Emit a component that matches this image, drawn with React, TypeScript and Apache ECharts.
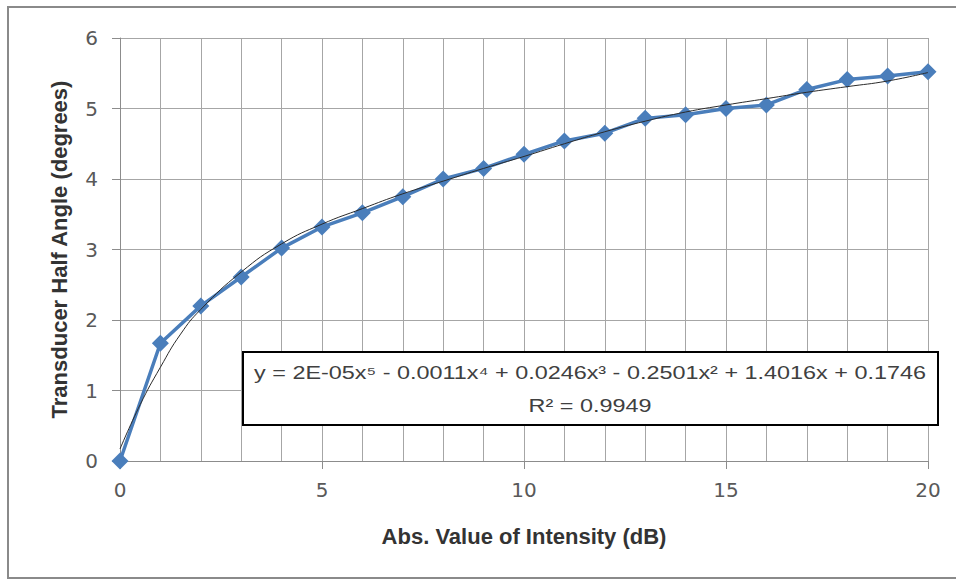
import React, { useEffect, useRef } from "react";
import * as echarts from "echarts";

const xValues = [0, 1, 2, 3, 4, 5, 6, 7, 8, 9, 10, 11, 12, 13, 14, 15, 16, 17, 18, 19, 20];
const halfAngle = [0, 1.67, 2.2, 2.61, 3.02, 3.32, 3.52, 3.75, 4.0, 4.15, 4.35, 4.54, 4.65, 4.86, 4.91, 5.0, 5.05, 5.27, 5.41, 5.46, 5.52];
const trendX = [0, 0.5, 1, 1.5, 2, 3, 4, 5, 6, 7, 8, 9, 10, 11, 12, 13, 14, 15, 16, 17, 18, 19, 20];
const trendY = [0.17, 0.8, 1.33, 1.8, 2.15, 2.68, 3.08, 3.36, 3.58, 3.79, 3.97, 4.15, 4.32, 4.5, 4.67, 4.82, 4.95, 5.05, 5.14, 5.23, 5.31, 5.39, 5.51];
const equationText = "y = 2E-05x⁵ - 0.0011x⁴ + 0.0246x³ - 0.2501x² + 1.4016x + 0.1746";
const r2Text = "R² = 0.9949";
const xAxisName = "Abs. Value of Intensity (dB)";
const yAxisName = "Transducer Half Angle (degrees)";

export default function App() {
  const ref = useRef<HTMLDivElement>(null);
  useEffect(() => {
    if (!ref.current) return;
    const chart = echarts.init(ref.current, null, { renderer: "svg" });
    const font = "Liberation Sans";
    const tickFont = "DejaVu Sans";
    chart.setOption({
      animation: false,
      backgroundColor: "#ffffff",
      grid: { left: 120, right: 28, top: 38, bottom: 119 },
      xAxis: {
        type: "value",
        min: 0,
        max: 20,
        interval: 5,
        name: xAxisName,
        nameLocation: "middle",
        nameGap: 64,
        nameTextStyle: { fontFamily: font, fontWeight: "bold", fontSize: 22, color: "#333" },
        axisLine: { show: true, lineStyle: { color: "#8c8c8c", width: 1 } },
        axisTick: { show: true, length: 8, lineStyle: { color: "#8c8c8c" } },
        axisLabel: { fontFamily: tickFont, fontSize: 20, color: "#595959", margin: 19 },
        splitLine: { show: true, lineStyle: { color: "#a6a6a6", width: 1 } },
        minorTick: { show: false, splitNumber: 5 },
        minorSplitLine: { show: true, lineStyle: { color: "#a6a6a6", width: 1 } },
      },
      yAxis: {
        type: "value",
        min: 0,
        max: 6,
        interval: 1,
        name: yAxisName,
        nameLocation: "middle",
        nameGap: 50,
        nameTextStyle: { fontFamily: font, fontWeight: "bold", fontSize: 22, color: "#333" },
        axisLine: { show: true, lineStyle: { color: "#8c8c8c", width: 1 } },
        axisTick: { show: true, length: 8, lineStyle: { color: "#8c8c8c" } },
        axisLabel: { fontFamily: tickFont, fontSize: 20, color: "#595959", margin: 22 },
        splitLine: { show: true, lineStyle: { color: "#a6a6a6", width: 1 } },
      },
      series: [
        {
          type: "line",
          data: xValues.map((x, i) => [x, halfAngle[i]]),
          symbol: "diamond",
          symbolSize: 17,
          lineStyle: { color: "#4a7ebb", width: 3.5 },
          itemStyle: { color: "#4a7ebb" },
          z: 2,
        },
        {
          type: "line",
          data: trendX.map((x, i) => [x, trendY[i]]),
          smooth: true,
          showSymbol: false,
          symbol: "none",
          lineStyle: { color: "#2b2b2b", width: 1 },
          z: 3,
        },
      ],
      graphic: [
        {
          type: "rect",
          shape: { x: 8, y: 7, width: 960, height: 571 },
          style: { fill: "none", stroke: "#8a8a8a", lineWidth: 2 },
          z: 10,
        },
        {
          type: "rect",
          shape: { x: 243, y: 352, width: 695, height: 73 },
          style: { fill: "#ffffff", stroke: "#000000", lineWidth: 2 },
          z: 10,
        },
        {
          type: "text",
          x: 590,
          y: 373,
          scaleX: 1.3,
          style: { text: equationText, fontFamily: font, fontSize: 18, fill: "#404040", align: "center", verticalAlign: "middle" },
          z: 11,
        },
        {
          type: "text",
          x: 590,
          y: 406,
          scaleX: 1.3,
          style: { text: r2Text, fontFamily: font, fontSize: 18, fill: "#404040", align: "center", verticalAlign: "middle" },
          z: 11,
        },
      ],
    });
    return () => chart.dispose();
  }, []);
  return <div ref={ref} style={{ position: "absolute", left: 0, top: 0, width: 956, height: 580 }} />;
}
